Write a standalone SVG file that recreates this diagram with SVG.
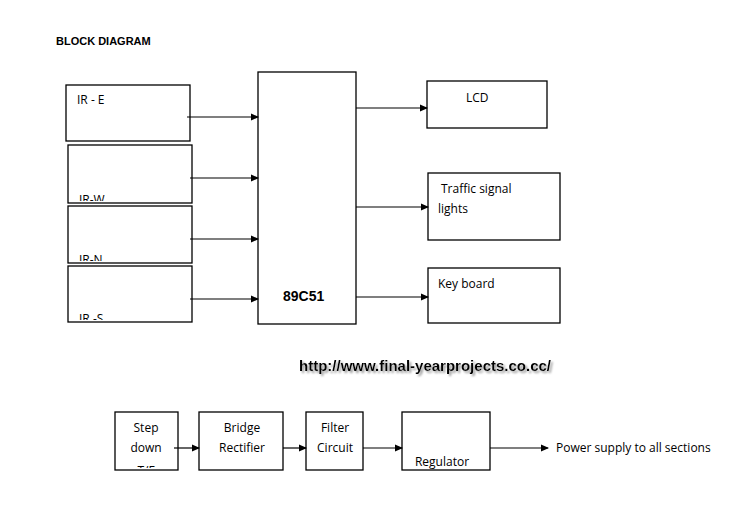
<svg xmlns="http://www.w3.org/2000/svg" width="750" height="524" viewBox="0 0 750 524">
<style>
.b{fill:#fff;stroke:#000;stroke-width:1.3}
.t{font-family:"Open Sans","Liberation Sans",sans-serif;font-size:12px;fill:#000}
.c line{stroke:#000;stroke-width:1.2;marker-end:url(#a)}
</style>
<defs>
<marker id="a" markerWidth="8" markerHeight="8" refX="7" refY="4" orient="auto" markerUnits="userSpaceOnUse"><path d="M0,0.5 L8,4 L0,7.5z"/></marker>
<clipPath id="cs"><rect x="68" y="266" width="124" height="54"/></clipPath>
<clipPath id="cw"><rect x="68" y="145" width="124" height="56"/></clipPath>
<clipPath id="cn"><rect x="68" y="206" width="124" height="55"/></clipPath>
<clipPath id="ct"><rect x="115" y="412" width="63" height="56"/></clipPath>
<filter id="sh" x="-5%" y="-30%" width="110%" height="160%"><feDropShadow dx="2" dy="2" stdDeviation="0.8" flood-color="#999"/></filter>
</defs>
<rect width="750" height="524" fill="#fff"/>
<text x="56" y="45" style="font-family:'Liberation Sans',sans-serif;font-size:11px;font-weight:bold">BLOCK DIAGRAM</text>
<g id="ire"><rect class="b" x="66" y="85" width="124" height="56"/><text class="t" x="77" y="104">IR - E</text></g>
<g id="irw"><rect class="b" x="68" y="145" width="124" height="58"/><text class="t" x="79" y="204" clip-path="url(#cw)">IR-W</text></g>
<g id="irn"><rect class="b" x="68" y="206" width="124" height="57"/><text class="t" x="79" y="264" clip-path="url(#cn)">IR-N</text></g>
<g id="irs"><rect class="b" x="68" y="266" width="124" height="56"/><text class="t" x="79" y="323" clip-path="url(#cs)">IR -S</text></g>
<g id="mcu"><rect class="b" x="258" y="72" width="98" height="252"/><text x="283" y="301" style="font-family:'Liberation Sans',sans-serif;font-size:14px;font-weight:bold">89C51</text></g>
<g id="lcd"><rect class="b" x="427" y="81" width="120" height="47"/><text class="t" x="466" y="102">LCD</text></g>
<g id="traffic"><rect class="b" x="428" y="173" width="132" height="67"/><text class="t" x="441" y="193">Traffic signal</text><text class="t" x="438" y="213">lights</text></g>
<g id="key"><rect class="b" x="428" y="268" width="132" height="55"/><text class="t" x="438" y="288">Key board</text></g>
<text x="299" y="371" filter="url(#sh)" style="font-family:'Liberation Sans',sans-serif;font-size:15px;font-weight:bold;fill:#000">http://www.final-yearprojects.co.cc/</text>
<g id="step"><rect class="b" x="115" y="412" width="63" height="58"/><text class="t" x="146" y="432" text-anchor="middle">Step</text><text class="t" x="146" y="452" text-anchor="middle">down</text><text class="t" x="146" y="475" text-anchor="middle" clip-path="url(#ct)">T/F</text></g>
<g id="bridge"><rect class="b" x="199" y="412" width="84" height="58"/><text class="t" x="242" y="432" text-anchor="middle">Bridge</text><text class="t" x="242" y="452" text-anchor="middle">Rectifier</text></g>
<g id="filter"><rect class="b" x="306" y="412" width="57" height="58"/><text class="t" x="335" y="432" text-anchor="middle">Filter</text><text class="t" x="335" y="452" text-anchor="middle">Circuit</text></g>
<g id="reg"><rect class="b" x="402" y="412" width="88" height="58"/><text class="t" x="442" y="466" text-anchor="middle">Regulator</text></g>
<text class="t" x="556" y="452">Power supply to all sections</text>
<g class="c">
<line x1="187" y1="117" x2="258" y2="117"/>
<line x1="190" y1="178" x2="258" y2="178"/>
<line x1="190" y1="239" x2="258" y2="239"/>
<line x1="190" y1="299" x2="258" y2="299"/>
<line x1="356" y1="108" x2="427" y2="108"/>
<line x1="356" y1="207" x2="428" y2="207"/>
<line x1="356" y1="297" x2="428" y2="297"/>
<line x1="174" y1="448" x2="199" y2="448"/>
<line x1="283" y1="448" x2="306" y2="448"/>
<line x1="363" y1="448" x2="402" y2="448"/>
<line x1="490" y1="448" x2="548" y2="448"/>
</g>
</svg>
